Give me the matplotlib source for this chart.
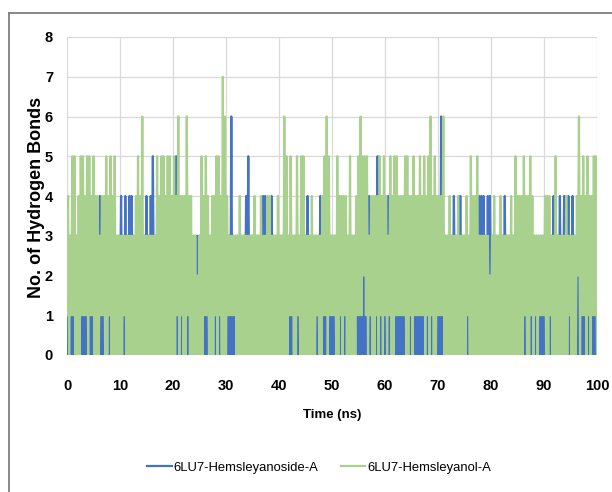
import logging
import numpy as np
import matplotlib
matplotlib.use("Agg")
import matplotlib.pyplot as plt
from matplotlib.lines import Line2D

logging.getLogger("matplotlib.font_manager").setLevel(logging.ERROR)

# ---- data (number of hydrogen bonds, one value every 0.2 ns) ----
time_step_ns = 0.2
series_names = ["6LU7-Hemsleyanoside-A", "6LU7-Hemsleyanol-A"]
x_ticks = [0, 10, 20, 30, 40, 50, 60, 70, 80, 90, 100]
y_ticks = [0, 1, 2, 3, 4, 5, 6, 7, 8]

hemsleyanoside_a = [  # blue, 10 ns per row
    "03 13 03 03 13 13 13 03 03 03 13 03 03 13 13 14 03 03 13 13 03 13 13 13 13",
    "14 13 04 13 14 14 13 13 13 13 13 13 14 13 14 15 13 13 13 13 13 13 13 13 13",
    "13 15 03 13 03 13 13 03 13 13 13 13 13 13 13 03 03 13 13 13 03 13 03 13 13",
    "13 03 06 03 03 13 13 13 13 14 15 13 13 13 13 13 13 14 14 13 13 14 13 13 13",
    "13 13 13 13 13 03 03 13 13 03 13 13 13 14 13 13 13 13 03 14 13 03 03 13 03",
    "03 03 13 13 03 13 03 13 13 13 13 13 03 03 03 03 03 14 03 13 13 05 13 03 13",
    "03 14 03 13 13 03 03 03 03 03 13 13 03 13 03 03 03 03 03 13 03 13 03 13 13",
    "03 06 03 13 13 13 13 14 13 13 14 13 13 13 03 13 13 13 13 14 14 14 13 14 14",
    "13 13 13 13 13 13 14 13 13 13 13 13 13 13 13 13 03 13 13 03 13 03 13 03 03",
    "03 13 13 03 14 13 13 14 13 14 13 14 03 14 13 13 03 13 03 03 13 03 13 03 03 1",
]

hemsleyanol_a = [  # green, 10 ns per row
    "14 03 15 15 03 04 05 15 14 15 05 14 15 04 04 03 14 14 05 04 15 04 05 03 03",
    "03 03 13 03 03 03 03 04 05 04 06 03 03 03 03 03 03 05 04 05 05 04 05 05 04",
    "05 04 16 04 14 04 06 14 04 03 03 02 03 05 04 15 14 03 04 04 15 05 14 07 06",
    "04 13 13 13 13 03 04 03 03 03 03 03 03 04 03 03 04 03 03 04 04 03 03 03 04",
    "03 03 06 05 03 15 13 03 05 13 05 05 03 03 03 04 03 03 13 03 04 15 16 05 13",
    "13 13 05 04 14 04 14 03 05 03 03 04 15 16 15 25 15 03 14 04 04 14 05 14 05",
    "14 03 15 04 05 15 14 14 14 15 05 04 14 05 14 14 15 14 15 04 15 06 14 05 04",
    "14 14 16 03 03 04 03 03 03 04 03 03 03 04 13 05 04 04 05 03 03 03 03 03 02",
    "03 04 03 03 04 03 03 03 03 04 03 05 04 04 04 05 14 04 05 14 03 13 03 13 13",
    "14 04 04 13 03 05 03 03 03 03 04 03 13 03 03 04 26 04 15 14 05 14 04 15 15 0",
]


def to_values(rows):
    return [int(ch) for row in rows for ch in row.replace(" ", "")]


blue_vals = to_values(hemsleyanoside_a)
green_vals = to_values(hemsleyanol_a)
time_ns = np.arange(len(green_vals)) * time_step_ns

# ---- style ----
BLUE = "#4472C4"
GREEN = "#A9D18E"
GRID = "#D9D9D9"
plt.rcParams["font.family"] = ["Liberation Sans", "DejaVu Sans"]

W, H = 612, 492
fig = plt.figure(figsize=(W / 100, H / 100), dpi=100)

# outer chart border (left and top visible)
fig.add_artist(Line2D([8.5 / W, 8.5 / W], [0, 1 - 12.5 / H], color="#7F7F7F", lw=1.3))
fig.add_artist(Line2D([8.5 / W, 1], [1 - 12.5 / H, 1 - 12.5 / H], color="#7F7F7F", lw=1.3))

ax = fig.add_axes([67 / W, 1 - 355 / H, 530 / W, 318 / H])
ax.plot(time_ns[: len(blue_vals)], blue_vals, color=BLUE, lw=1.6, zorder=2)
ax.plot(time_ns, green_vals, color=GREEN, lw=1.6, zorder=3)

ax.set_xlim(0, 100)
ax.set_ylim(0, 8)
ax.set_xticks(x_ticks)
ax.set_yticks(y_ticks)
ax.grid(True, color=GRID, lw=0.9, zorder=0)
ax.set_axisbelow(True)
for s in ax.spines.values():
    s.set_visible(False)
ax.tick_params(length=0)
ax.tick_params(axis="y", pad=10, labelsize=10.5)
ax.tick_params(axis="x", pad=17, labelsize=10.5)
for lab in ax.get_xticklabels() + ax.get_yticklabels():
    lab.set_fontweight("bold")

fig.text(332 / W, 1 - 415 / H, "Time (ns)", ha="center", va="center",
         fontsize=9.5, fontweight="bold")
fig.text(37 / W, 1 - 197 / H, "No. of Hydrogen Bonds", ha="center", va="center",
         rotation=90, fontsize=13, fontweight="bold")

handles = [Line2D([], [], color=BLUE, lw=1.6), Line2D([], [], color=GREEN, lw=1.6)]
fig.legend(handles, series_names, loc="center", bbox_to_anchor=(319 / W, 1 - 468 / H),
           ncol=2, frameon=False, handlelength=1.9, handletextpad=0.15,
           columnspacing=1.7, fontsize=9.4)

fig.savefig("out.png", dpi=100)
